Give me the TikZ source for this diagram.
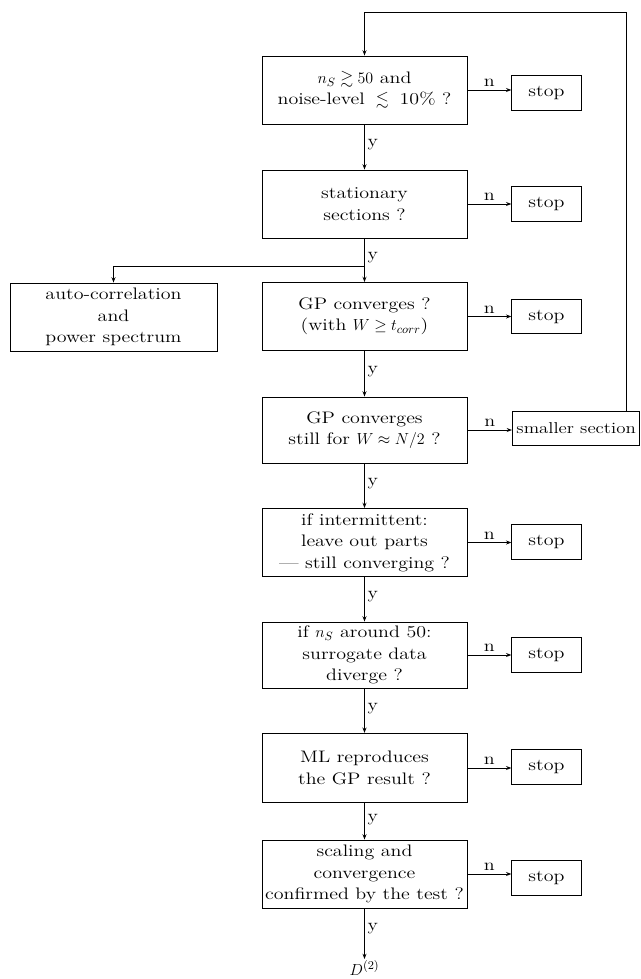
\documentclass[tikz,border=0pt]{standalone}
\usepackage{amssymb}
\usepackage{fontspec}
\setmainfont{Latin Modern Roman}[FakeStretch=1.2]
\usetikzlibrary{arrows.meta}
\newcommand\fsz{\fontsize{12.5}{16}\selectfont}
\tikzset{
  box/.style={draw, line width=0.7pt, align=center, minimum width=153.75pt, minimum height=51pt, inner sep=2pt, font=\fsz},
  stopbox/.style={draw, line width=0.7pt, minimum width=52pt, minimum height=26pt, inner sep=2pt, font=\fsz},
  conn/.style={line width=0.7pt, -{Stealth[length=4pt,width=3pt]}},
  lab/.style={font=\fsz, inner sep=2pt}
}
\begin{document}
\begin{tikzpicture}[x=0.75pt,y=-0.75pt]
\useasboundingbox (0,0) rectangle (640,979);
% main column
\node[box] (b1) at (364.5,90) {$n_S \gtrsim 50$ and\\ noise-level $\;\lesssim\;$ 10\% ?};
\node[box] (b2) at (364.5,204) {stationary\\ sections ?};
\node[box] (b3) at (364.5,316.5) {GP converges ?\\ (with $W \geq t_{corr}$)};
\node[box, minimum height=49.5pt] (b4) at (364.5,430) {GP converges\\ still for $W \approx N/2$ ?};
\node[box] (b5) at (364.5,542.5) {if intermittent:\\ leave out parts\\ --- still converging ?};
\node[box, minimum height=49.5pt] (b6) at (364.5,655) {if $n_S$ around 50:\\ surrogate data\\ diverge ?};
\node[box, minimum height=52pt] (b7) at (364.5,768) {ML reproduces\\ the GP result ?};
\node[box] (b8) at (364.5,874) {scaling and\\ convergence\\ confirmed by the test ?};
\node[font=\fsz, inner sep=1pt] (d2) at (364.5,968) {$D^{(2)}$};
% side boxes
\node[box, minimum width=155.25pt] (ac) at (113.5,317) {auto-correlation\\ and\\ power spectrum};
\node[stopbox] (s1) at (546.5,93) {stop};
\node[stopbox] (s2) at (546.5,204) {stop};
\node[stopbox] (s3) at (546.5,316.5) {stop};
\node[draw, line width=0.7pt, minimum height=26pt, minimum width=95.5pt, inner xsep=2pt, inner ysep=2pt, font=\fontsize{11.8}{14}\selectfont, anchor=west] (sm) at (512,428.5) {smaller section};
\node[stopbox] (s5) at (546.5,542) {stop};
\node[stopbox] (s6) at (546.5,655) {stop};
\node[stopbox] (s7) at (546.5,767) {stop};
\node[stopbox] (s8) at (546.5,878) {stop};
% loop coordinates
\coordinate (loopR) at (626,12);
\coordinate (loopL) at (364.5,12);
\coordinate (br) at (364.5,266);
% vertical y-arrows
\draw[conn] (b1.south) -- node[pos=0.45, right, lab] {y} (b2.north);
\draw[conn] (b2.south) -- node[pos=0.45, right, lab] {y} (b3.north);
\draw[conn] (br) -| (ac.north);
\draw[conn] (b3.south) -- node[pos=0.45, right, lab] {y} (b4.north);
\draw[conn] (b4.south) -- node[pos=0.45, right, lab] {y} (b5.north);
\draw[conn] (b5.south) -- node[pos=0.45, right, lab] {y} (b6.north);
\draw[conn] (b6.south) -- node[pos=0.45, right, lab] {y} (b7.north);
\draw[conn] (b7.south) -- node[pos=0.45, right, lab] {y} (b8.north);
\draw[conn] (b8.south) -- node[pos=0.4, right, lab] {y} (d2.north);
% horizontal n-arrows
\draw[conn] (b1.east) -- node[midway, above, lab] {n} (b1.east -| s1.west);
\draw[conn] (b2.east) -- node[midway, above, lab] {n} (s2.west);
\draw[conn] (b3.east) -- node[midway, above, lab] {n} (s3.west);
\draw[conn] (b4.east) -- node[midway, above, lab] {n} (b4.east -| sm.west);
\draw[conn] (b5.east) -- node[midway, above, lab] {n} (b5.east -| s5.west);
\draw[conn] (b6.east) -- node[midway, above, lab] {n} (s6.west);
\draw[conn] (b7.east) -- node[midway, above, lab] {n} (b7.east -| s7.west);
\draw[conn] (b8.east) -- node[midway, above, lab] {n} (b8.east -| s8.west);
% feedback loop
\draw[conn] (sm.north -| loopR) -- (loopR) -- (loopL) -- (b1.north);
\end{tikzpicture}
\end{document}
